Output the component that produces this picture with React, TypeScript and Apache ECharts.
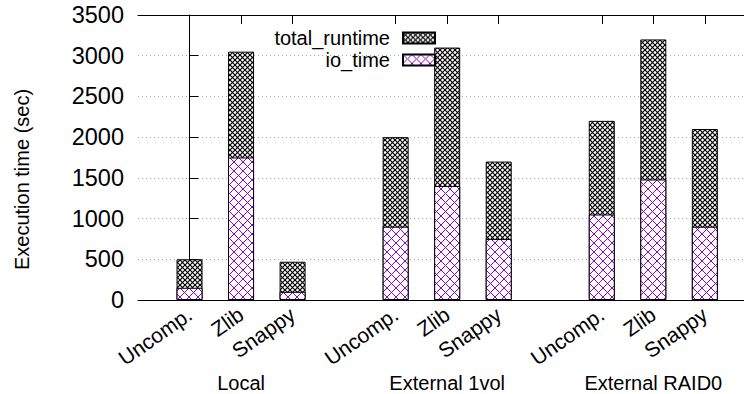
import React, { useEffect, useRef } from "react";
import * as echarts from "echarts";

const groups = ["Local", "External 1vol", "External RAID0"];
const methods = ["Uncomp.", "Zlib", "Snappy"];
const totalRuntime = [500, 3050, 470, 2000, 3100, 1700, 2200, 3200, 2100];
const ioTime = [150, 1750, 100, 900, 1400, 750, 1050, 1480, 900];
const yTicks = [0, 500, 1000, 1500, 2000, 2500, 3000, 3500];

const FONT = "Liberation Sans";

function makeHatch(size: number, color: string, lw: number) {
  const c = document.createElement("canvas");
  c.width = size;
  c.height = size;
  const ctx = c.getContext("2d")!;
  ctx.fillStyle = "#fff";
  ctx.fillRect(0, 0, size, size);
  ctx.strokeStyle = color;
  ctx.lineWidth = lw;
  for (const o of [-size, 0, size]) {
    ctx.beginPath();
    ctx.moveTo(o, 0);
    ctx.lineTo(o + size, size);
    ctx.stroke();
    ctx.beginPath();
    ctx.moveTo(o + size, 0);
    ctx.lineTo(o, size);
    ctx.stroke();
  }
  return c;
}

export default function App() {
  const ref = useRef<HTMLDivElement>(null);
  useEffect(() => {
    if (!ref.current) return;
    const chart = echarts.init(ref.current, null, { renderer: "svg" });
    const xs: number[] = [];
    const labelMap: Record<number, string> = {};
    groups.forEach((g, gi) => {
      methods.forEach((m, mi) => {
        const x = gi * 4 + mi;
        xs.push(x);
        labelMap[x] = m;
      });
    });
    const groupPos = groups.map((_, gi) => gi * 4 + 1);
    const groupMap: Record<number, string> = {};
    groupPos.forEach((p, i) => (groupMap[p] = groups[i]));

    const blackHatch = makeHatch(5, "#000", 1.2);
    const violetHatch = makeHatch(9, "#9400d3", 1);

    const xMin = -1;
    const xMax = 10.76;
    const textBase = { fontFamily: FONT, fontSize: 20, color: "#000" };

    chart.setOption({
      animation: false,
      grid: { left: 138, right: 0, top: 15, bottom: 94 },
      legend: {
        data: ["total_runtime", "io_time"],
        orient: "vertical",
        align: "right",
        right: 303,
        top: 23,
        itemWidth: 32,
        itemHeight: 11,
        itemGap: 2,
        icon: "rect",
        textStyle: { ...textBase, padding: [0, 8, 0, 0] },
      },
      xAxis: [
        {
          type: "value",
          min: xMin,
          max: xMax,
          position: "bottom",
          axisLine: { lineStyle: { color: "#000", width: 1 } },
          axisTick: { inside: true, length: 9, customValues: xs, lineStyle: { color: "#000" } },
          axisLabel: {
            customValues: xs,
            rotate: 35,
            margin: 12,
            formatter: (v: number) => labelMap[Math.round(v)] ?? "",
            ...textBase,
            fontSize: 21,
          },
          splitLine: { show: false },
        },
        {
          type: "value",
          min: xMin,
          max: xMax,
          position: "bottom",
          axisLine: { show: false },
          axisTick: { show: false },
          axisLabel: {
            customValues: groupPos,
            margin: 73,
            formatter: (v: number) => groupMap[Math.round(v)] ?? "",
            ...textBase,
          },
          splitLine: { show: false },
        },
        {
          type: "value",
          min: xMin,
          max: xMax,
          position: "top",
          axisLine: { lineStyle: { color: "#000", width: 1 } },
          axisTick: { inside: true, length: 9, customValues: xs, lineStyle: { color: "#000" } },
          axisLabel: { show: false },
          splitLine: { show: false },
        },
      ],
      yAxis: {
        type: "value",
        min: yTicks[0],
        max: yTicks[yTicks.length - 1],
        interval: 500,
        name: "Execution time (sec)",
        nameLocation: "middle",
        nameGap: 106,
        nameRotate: 90,
        nameTextStyle: { ...textBase, padding: [0, 44, 0, 0] },
        axisLine: { show: true, lineStyle: { color: "#000", width: 1 } },
        axisTick: { show: true, inside: true, length: 9, lineStyle: { color: "#000" } },
        axisLabel: { margin: 14, formatter: (v: number) => String(v), ...textBase, fontSize: 23.5 },
        splitLine: { show: true, lineStyle: { color: "#aaa", type: [1, 3], width: 1 } },
      },
      series: [
        {
          name: "total_runtime",
          type: "bar",
          xAxisIndex: 0,
          barWidth: 26,
          barGap: "-100%",
          data: xs.map((x, i) => [x, totalRuntime[i]]),
          itemStyle: {
            color: { image: blackHatch, repeat: "repeat", imageWidth: 5, imageHeight: 5 } as any,
            borderColor: "#000",
            borderWidth: 1,
          },
        },
        {
          name: "io_time",
          type: "bar",
          xAxisIndex: 0,
          barWidth: 26,
          barGap: "-100%",
          data: xs.map((x, i) => [x, ioTime[i]]),
          itemStyle: {
            color: { image: violetHatch, repeat: "repeat", imageWidth: 9, imageHeight: 9 } as any,
            borderColor: "#000",
            borderWidth: 1,
          },
        },
      ],
    });
    return () => chart.dispose();
  }, []);
  return <div ref={ref} style={{ width: 744, height: 394, position: "absolute", left: 0, top: 0 }} />;
}
